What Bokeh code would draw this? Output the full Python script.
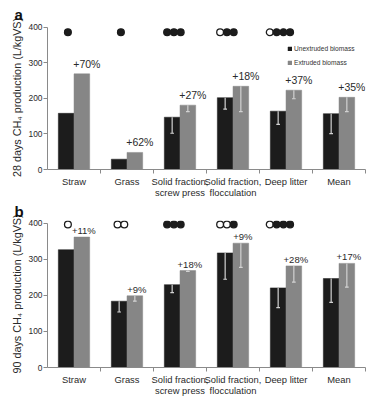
from bokeh.plotting import figure
from bokeh.layouts import column
from bokeh.models import ColumnDataSource, FixedTicker, Legend, LegendItem, Range1d
from bokeh.core.properties import value
from bokeh.embed import file_html
from bokeh.resources import INLINE

categories = ["Straw", "Grass", "Solid fraction,\nscrew press", "Solid fraction,\nflocculation", "Deep litter", "Mean"]

a_unext = [158, 29, 147, 202, 164, 157]
a_ext = [269, 48, 181, 234, 223, 203]
a_unext_err = [0, 0, 45, 32, 37, 56]
a_ext_err = [0, 0, 18, 71, 24, 40]
a_pct = ["+70%", "+62%", "+27%", "+18%", "+37%", "+35%"]
a_sig = ["●", "●", "●●●", "○●●", "○●●●", ""]

b_unext = [327, 184, 230, 318, 221, 247]
b_ext = [362, 199, 269, 345, 282, 289]
b_unext_err = [0, 30, 22, 73, 55, 66]
b_ext_err = [0, 15, 2, 67, 45, 66]
b_pct = ["+11%", "+9%", "+18%", "+9%", "+28%", "+17%"]
b_sig = ["○", "○○", "●●●", "○○●", "○●●●", ""]

y_ticks = [0, 100, 200, 300, 400]

FONT = "Liberation Sans"
BLACK = "#1c1c1c"
GRAY = "#868686"
ERR = "#d2d2d2"
AXIS = "#8a8a8a"
TXT = "#2a2a2a"

BW = 0.295
OFF = 0.148


def panel(letter, ylabel, unext, ext, unext_err, ext_err, pct, sig, sig_y, y_end,
          height, top, bottom, title_standoff, pct_size, pct_dx, pct_dy, legend=False):
    p = figure(width=380, height=height, output_backend="svg", toolbar_location=None,
               x_range=Range1d(0, 6), y_range=Range1d(0, y_end),
               min_border_left=47, min_border_right=15, min_border_top=top,
               min_border_bottom=bottom)
    p.outline_line_color = None
    p.grid.visible = False
    p.title.text = letter
    p.title.text_font = FONT
    p.title.text_font_style = "bold"
    p.title.text_font_size = "15px"
    p.title.text_color = "#111111"
    p.title.align = "left"
    p.title.offset = -33
    p.title.standoff = title_standoff
    centers = [i + 0.5 for i in range(len(categories))]
    xu = [c - OFF for c in centers]
    xe = [c + OFF for c in centers]
    r1 = p.vbar(x=xu, top=unext, width=BW, fill_color=BLACK, line_color=BLACK, line_width=0.5)
    r2 = p.vbar(x=xe, top=ext, width=BW, fill_color=GRAY, line_color=GRAY, line_width=0.5)
    # error bars (lower half, drawn inside bars)
    ex, y0, y1, cx0, cx1, cy = [], [], [], [], [], []
    for xs, vals, errs in ((xu, unext, unext_err), (xe, ext, ext_err)):
        for x, v, e in zip(xs, vals, errs):
            if e > 0:
                ex.append(x); y0.append(v); y1.append(v - e)
                cx0.append(x - 0.035); cx1.append(x + 0.035); cy.append(v - e)
    p.segment(x0=ex, y0=y0, x1=ex, y1=y1, line_color=ERR, line_width=1.2)
    p.segment(x0=cx0, y0=cy, x1=cx1, y1=cy, line_color=ERR, line_width=1.2)
    # percentages
    src = ColumnDataSource(dict(x=xe, y=ext, t=pct))
    p.text(x="x", y="y", text="t", source=src, x_offset=pct_dx, y_offset=pct_dy,
           text_align="center", text_baseline="bottom", text_font=value(FONT),
           text_font_size=pct_size, text_color=TXT)
    # significance dots
    dx, dy, fills = [], [], []
    for c, s in zip(centers, sig):
        n = len(s)
        for j, ch in enumerate(s):
            dx.append(c - 0.115 + (j - (n - 1) / 2) * 0.128)
            dy.append(sig_y)
            fills.append(BLACK if ch == "●" else "white")
    p.scatter(x=dx, y=dy, size=6.8, fill_color=fills, line_color=BLACK, line_width=1.3)

    # axes
    p.yaxis.bounds = (0, 400)
    p.yaxis.ticker = FixedTicker(ticks=y_ticks, minor_ticks=[])
    p.yaxis.axis_label = ylabel
    p.yaxis.axis_label_text_font = FONT
    p.yaxis.axis_label_text_font_style = "normal"
    p.yaxis.axis_label_text_font_size = "10.8px"
    p.yaxis.axis_label_text_color = TXT
    p.yaxis.axis_label_standoff = 3
    p.xaxis.ticker = FixedTicker(ticks=centers, minor_ticks=[1, 2, 3, 4, 5, 6])
    p.xaxis.major_label_overrides = {c: lab for c, lab in zip(centers, categories)}
    p.xaxis.major_tick_out = 0
    p.xaxis.major_tick_in = 0
    p.xaxis.minor_tick_out = 4
    p.xaxis.minor_tick_in = 0
    p.xaxis.major_label_standoff = 2
    p.xaxis.major_label_text_line_height = 1.0
    p.yaxis.major_tick_out = 4
    p.yaxis.major_tick_in = 0
    p.yaxis.minor_tick_out = 0
    p.yaxis.major_label_standoff = 1
    for ax in (p.xaxis, p.yaxis):
        ax.axis_line_color = AXIS
        ax.major_tick_line_color = AXIS
        ax.minor_tick_line_color = AXIS
        ax.major_label_text_font = FONT
        ax.major_label_text_color = TXT
    p.yaxis.major_label_text_font_size = "8.4px"
    p.xaxis.major_label_text_font_size = "9.4px"

    if legend:
        lg = Legend(items=[LegendItem(label="Unextruded biomass", renderers=[r1]),
                           LegendItem(label="Extruded biomass", renderers=[r2])],
                    location=(240, 103), orientation="vertical",
                    border_line_color=None, background_fill_alpha=0,
                    padding=0, margin=0, spacing=6, glyph_width=5, glyph_height=5,
                    label_standoff=2, label_height=8, label_text_font=FONT,
                    label_text_font_size="6.6px", label_text_color="#333333")
        p.add_layout(lg, "center")
    return p


pa = panel("a", "28 days CH\u2084 production (L/kgVS)", a_unext, a_ext, a_unext_err, a_ext_err,
           a_pct, a_sig, 386, 405, 200, 24, 27, 6, "10.5px", 5, -4, legend=True)
pb = panel("b", "90 days CH\u2084 production (L/kgVS)", b_unext, b_ext, b_unext_err, b_ext_err,
           b_pct, b_sig, 397, 408, 198, 19, 27, 1, "9.5px", 2, -1)

layout = column(pa, pb, spacing=0)
open("out.html", "w").write(file_html(layout, INLINE))
